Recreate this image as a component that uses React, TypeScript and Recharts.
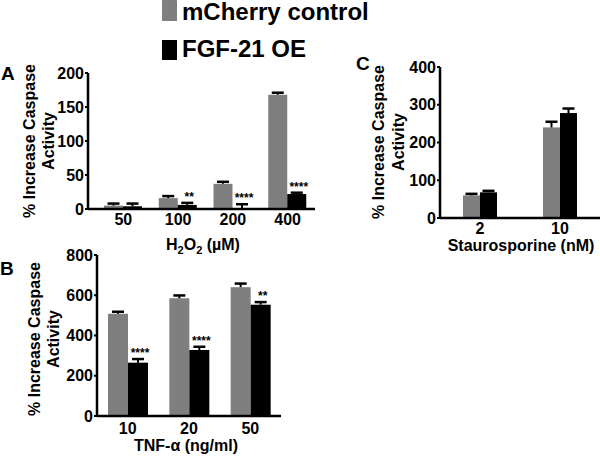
import { BarChart, Bar, XAxis, YAxis } from "recharts";

const FONT = "'Liberation Sans', Arial, Helvetica, sans-serif";
const GREY = "#7f7f7f";
const BLACK = "#000000";

// Panel A - H2O2
const h2o2Doses = ["50", "100", "200", "400"];
const h2o2Cherry = [5, 16, 37, 168];
const h2o2CherryErr = [3, 3, 3, 3];
const h2o2Fgf = [4, 6, 1, 22];
const h2o2FgfErr = [4, 3, 6, 2];
const h2o2Sig = ["", "**", "****", "****"];
const h2o2Ticks = [0, 50, 100, 150, 200];

// Panel B - TNF-alpha
const tnfDoses = ["10", "20", "50"];
const tnfCherry = [508, 585, 640];
const tnfCherryErr = [10, 14, 18];
const tnfFgf = [265, 328, 553];
const tnfFgfErr = [18, 16, 13];
const tnfSig = ["****", "****", "**"];
const tnfTicks = [0, 200, 400, 600, 800];

// Panel C - Staurosporine
const stsDoses = ["2", "10"];
const stsCherry = [60, 240];
const stsCherryErr = [4, 15];
const stsFgf = [68, 278];
const stsFgfErr = [4, 12];
const stsSig = ["", ""];
const stsTicks = [0, 100, 200, 300, 400];

function buildRows(cats: string[], m: number[], mErr: number[], f: number[], fErr: number[], sig: string[]) {
  return cats.map((c, i) => ({ cat: c, m: m[i], mErr: mErr[i], f: f[i], fErr: fErr[i], sig: sig[i] }));
}

// bar + one-sided (upper) error bar + significance stars
function barShape(errKey: string, withSig: boolean) {
  return (props: any) => {
    const { x, y, width, height, fill, payload, value } = props;
    const v = Array.isArray(value) ? value[1] - value[0] : value;
    const k = v ? height / v : 0;
    const top = y - (payload[errKey] || 0) * k;
    const cx = x + width / 2;
    return (
      <g>
        <rect x={x} y={y} width={width} height={height} fill={fill} />
        <line x1={cx} y1={y} x2={cx} y2={top} stroke={BLACK} strokeWidth={2} />
        <line x1={cx - 6} y1={top} x2={cx + 6} y2={top} stroke={BLACK} strokeWidth={2.5} />
        {withSig && payload.sig ? (
          <text x={cx + 2} y={top - 2} textAnchor="middle" fontSize={12} fontWeight={700} fontFamily={FONT} fill={BLACK}>
            {payload.sig}
          </text>
        ) : null}
      </g>
    );
  };
}

const tickStyle = { fill: BLACK, fontSize: 16, fontWeight: 700, fontFamily: FONT };

type PanelProps = {
  rows: any[];
  ticks: number[];
  width: number;
  height: number;
  margin: { top: number; right: number; left: number; bottom: number };
  yWidth: number;
  xHeight: number;
  barSize: number;
  padLeft: number;
  xGap: number;
};

function Panel({ rows, ticks, width, height, margin, yWidth, xHeight, barSize, padLeft, xGap }: PanelProps) {
  return (
    <BarChart width={width} height={height} data={rows} margin={margin} barGap={0} barSize={barSize}>
      <XAxis
        dataKey="cat"
        axisLine={{ stroke: BLACK, strokeWidth: 2.5 }}
        tickLine={false}
        tickSize={0}
        tickMargin={xGap}
        tick={tickStyle}
        height={xHeight}
        padding={{ left: padLeft, right: 0 }}
        interval={0}
      />
      <YAxis
        domain={[ticks[0], ticks[ticks.length - 1]]}
        ticks={ticks}
        width={yWidth}
        axisLine={{ stroke: BLACK, strokeWidth: 2.5 }}
        tickLine={{ stroke: BLACK, strokeWidth: 2 }}
        tickSize={3}
        tickMargin={1}
        tick={tickStyle}
        interval={0}
      />
      <Bar dataKey="m" fill={GREY} isAnimationActive={false} shape={barShape("mErr", false)} />
      <Bar dataKey="f" fill={BLACK} isAnimationActive={false} shape={barShape("fErr", true)} />
    </BarChart>
  );
}

// two-line rotated y title; b1/b2 are the baselines of the two lines
function YTitle({ b1, b2, cy }: { b1: number; b2: number; cy: number }) {
  return (
    <g fontSize={16} fontWeight={700} fontFamily={FONT} fill={BLACK} textAnchor="middle">
      <text x={b1} y={cy} transform={`rotate(-90 ${b1} ${cy})`}>
        % Increase Caspase
      </text>
      <text x={b2} y={cy} transform={`rotate(-90 ${b2} ${cy})`}>
        Activity
      </text>
    </g>
  );
}

export default function App() {
  const rowsA = buildRows(h2o2Doses, h2o2Cherry, h2o2CherryErr, h2o2Fgf, h2o2FgfErr, h2o2Sig);
  const rowsB = buildRows(tnfDoses, tnfCherry, tnfCherryErr, tnfFgf, tnfFgfErr, tnfSig);
  const rowsC = buildRows(stsDoses, stsCherry, stsCherryErr, stsFgf, stsFgfErr, stsSig);

  return (
    <div
      style={{
        position: "absolute",
        left: 0,
        top: 0,
        width: 600,
        height: 456,
        background: "#fff",
        overflow: "hidden",
        fontFamily: FONT,
        color: BLACK,
      }}
    >
      <div style={{ position: "absolute", left: 0, top: 60 }}>
        <Panel rows={rowsA} ticks={h2o2Ticks} width={320} height={200} margin={{ top: 13, right: 5, left: 0, bottom: 21 }} yWidth={88} xHeight={30} barSize={19} padLeft={8} xGap={5} />
      </div>
      <div style={{ position: "absolute", left: 0, top: 240 }}>
        <Panel rows={rowsB} ticks={tnfTicks} width={300} height={200} margin={{ top: 15, right: 19, left: 0, bottom: 0 }} yWidth={97} xHeight={24} barSize={20} padLeft={0} xGap={7} />
      </div>
      <div style={{ position: "absolute", left: 340, top: 50 }}>
        <Panel rows={rowsC} ticks={stsTicks} width={260} height={190} margin={{ top: 17, right: 0, left: 0, bottom: 0 }} yWidth={100} xHeight={22} barSize={17} padLeft={0} xGap={5} />
      </div>

      {/* legend, panel letters and axis titles */}
      <svg width={600} height={456} style={{ position: "absolute", left: 0, top: 0, pointerEvents: "none" }}>
        <rect x={162} y={0} width={15} height={21} fill={GREY} />
        <text x={182} y={20} fontSize={24} fontWeight={700} fontFamily={FONT} fill={BLACK}>mCherry control</text>
        <rect x={162} y={40} width={15} height={20} fill={BLACK} />
        <text x={182} y={57} fontSize={24} fontWeight={700} fontFamily={FONT} fill={BLACK}>FGF-21 OE</text>

        <g fontSize={19} fontWeight={700} fontFamily={FONT} fill={BLACK}>
          <text x={1} y={80}>A</text>
          <text x={0} y={275}>B</text>
          <text x={356} y={70}>C</text>
        </g>

        <YTitle b1={35} b2={54} cy={141} />
        <YTitle b1={40} b2={59} cy={339} />
        <YTitle b1={384} b2={404} cy={142} />

        <g fontSize={16} fontWeight={700} fontFamily={FONT} fill={BLACK} textAnchor="middle">
          <text x={203} y={250}>
            H<tspan fontSize={11} dy={4}>2</tspan>
            <tspan dy={-4}>O</tspan>
            <tspan fontSize={11} dy={4}>2</tspan>
            <tspan dy={-4}> (µM)</tspan>
          </text>
          <text x={186} y={451}>TNF-α (ng/ml)</text>
          <text x={521} y={251}>Staurosporine (nM)</text>
        </g>
      </svg>
    </div>
  );
}
